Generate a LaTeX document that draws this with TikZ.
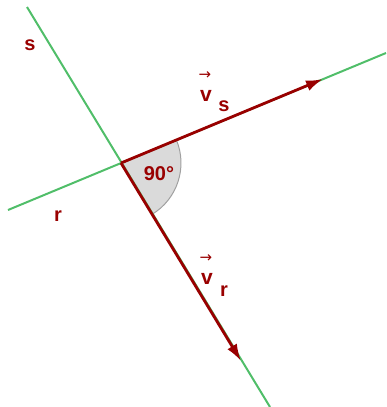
\documentclass[tikz,border=0pt]{standalone}
\usepackage{fontspec}
\setmainfont{Liberation Sans}
\newfontfamily\symfont{DejaVu Sans}
\usetikzlibrary{arrows.meta}
\definecolor{lgreen}{RGB}{80,190,105}
\definecolor{dred}{RGB}{153,0,0}
\definecolor{sectorfill}{RGB}{218,218,218}
\definecolor{sectoredge}{RGB}{160,160,160}
\tikzset{
  lineobj/.style={lgreen, line width=2pt},
  vecobj/.style={dred, line width=2.8pt, -{Latex[length=17pt,width=11pt]}},
  lbl/.style={dred, font=\fontsize{20}{20}\selectfont\bfseries, inner sep=0pt},
  vlbl/.style={dred, font=\fontsize{21}{21}\selectfont\bfseries, inner sep=0pt},
  arr/.style={dred, font=\symfont\fontsize{15}{15}\selectfont, inner sep=0pt},
}
\begin{document}
\begin{tikzpicture}[x=1pt,y=-1pt]
\useasboundingbox (0,0) rectangle (386,407);
\coordinate (O) at (121,163);
\coordinate (S1) at (27,7);
\coordinate (S2) at (270,407);
\coordinate (R1) at (8,210);
\coordinate (R2) at (386,53);
\coordinate (Vs) at (323,79);
\coordinate (Vr) at (241,361);
% angle sector
\filldraw[fill=sectorfill, draw=sectoredge, line width=1pt]
  (O) -- ++(-22.6:60) arc[start angle=-22.6, end angle=59.0, radius=60] -- cycle;
% lines
\draw[lineobj] (S1) -- (S2);
\draw[lineobj] (R1) -- (R2);
% vectors
\draw[vecobj] (O) -- (Vs);
\draw[vecobj] (O) -- (Vr);
% labels
\node[lbl] (l90) at (159,174) {90°};
\node[lbl] (ls) at (30,45) {s};
\node[lbl] (lr) at (58,216) {r};
\node[vlbl] (vs) at (206,96) {v};
\node[arr] (avs) at (205,76) {→};
\node[lbl] (vss) at (224,106) {s};
\node[vlbl] (vr) at (207,279) {v};
\node[arr] (avr) at (206,259) {→};
\node[lbl] (vrr) at (224,291) {r};
\end{tikzpicture}
\end{document}
